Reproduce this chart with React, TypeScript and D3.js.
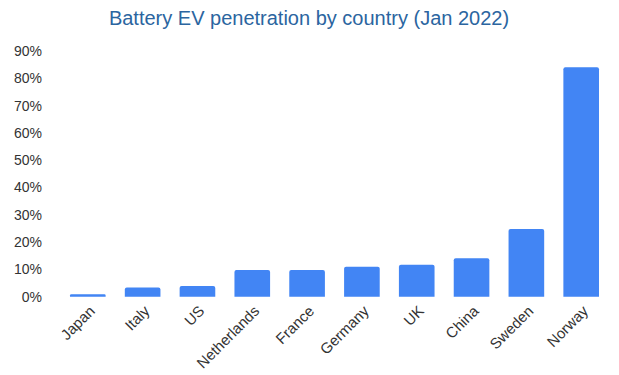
import React, { useEffect } from "react";
import * as d3 from "d3";

const countries = ["Japan", "Italy", "US", "Netherlands", "France", "Germany", "UK", "China", "Sweden", "Norway"];
const penetration = [0.9, 3.4, 3.9, 9.8, 9.8, 11.0, 11.7, 14.1, 24.8, 84.0];
const yTicks = [0, 10, 20, 30, 40, 50, 60, 70, 80, 90];
const title = "Battery EV penetration by country (Jan 2022)";

const W = 619;
const H = 375;

export default function App() {
  useEffect(() => {
    document.body.style.margin = "0";
  }, []);

  const x = d3.scaleBand<string>().domain(countries).range([60.4, 608.6]).paddingInner(0.35).paddingOuter(0.175);
  const y = d3.scaleLinear().domain([0, 90]).range([296.7, 50.9]);
  const font = "Arial, 'Liberation Sans', sans-serif";

  return (
    <svg width={W} height={H} style={{ display: "block", background: "#fff" }} fontFamily={font}>
      <text x={309} y={25} textAnchor="middle" fontSize={20} fill="#2b65a0">{title}</text>
      {yTicks.map((t) => (
        <text key={t} x={42} y={y(t)} dy="0.36em" textAnchor="end" fontSize={14} fill="#333">{t}%</text>
      ))}
      {countries.map((c, i) => {
        const v = penetration[i];
        const bx = x(c)!;
        const bw = x.bandwidth();
        const top = y(v);
        const h = y(0) - top;
        const r = Math.min(2, h / 2);
        const path = `M${bx},${y(0)}V${top + r}Q${bx},${top} ${bx + r},${top}H${bx + bw - r}Q${bx + bw},${top} ${bx + bw},${top + r}V${y(0)}Z`;
        return <path key={c} d={path} fill="#4285f4" />;
      })}
      {countries.map((c) => {
        const cx = x(c)! + x.bandwidth() / 2 + 8;
        const cy = 312;
        return (
          <text key={c} x={cx} y={cy} transform={`rotate(-45 ${cx} ${cy})`} textAnchor="end" fontSize={15} fill="#333">{c}</text>
        );
      })}
    </svg>
  );
}
